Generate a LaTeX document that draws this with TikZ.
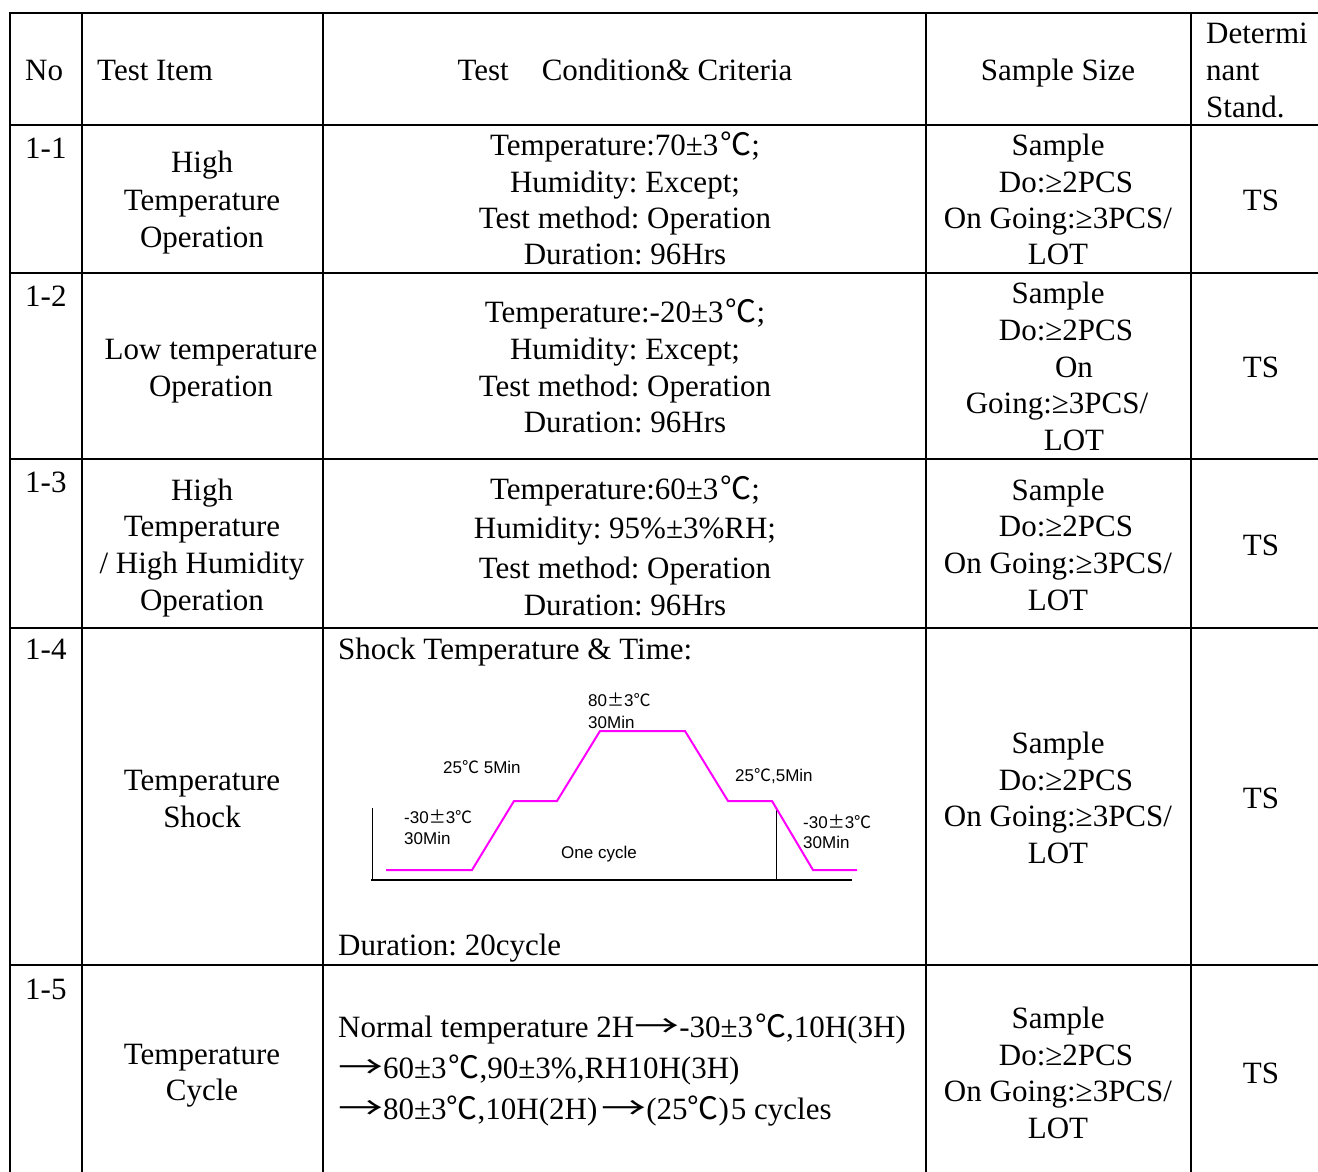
\documentclass[tikz,border=0pt]{standalone}
\usepackage{fontspec}
\usepackage{graphicx}
\setmainfont{Liberation Serif}
\newfontfamily\chartfont{Liberation Sans}
\newfontfamily\cjk{Noto Sans CJK SC}
\newcommand\dgc{{\cjk ℃}}
\newcommand\tdgc{\hspace{2pt}{\cjk ℃}}
\newcommand\cpm{{\cjk ±}}
\newcommand\rar{\scalebox{1.45}[1]{\cjk →}}
\frenchspacing
\tikzset{
  tbl/.style={line width=2.5pt, line cap=rect},
  txt/.style={inner sep=0pt, font=\fontsize{31}{36.5}\selectfont, anchor=base},
  ltxt/.style={txt, anchor=base west},
  chl/.style={inner sep=0pt, font=\chartfont\fontsize{17}{21}\selectfont, anchor=base west},
  curve/.style={draw={rgb,255:red,255;green,0;blue,255}, line width=2pt, line join=miter},
  axis/.style={line width=2pt},
  thin/.style={line width=1pt}
}
\begin{document}
\begin{tikzpicture}[x=1pt,y=-1pt]
\useasboundingbox (0,0) rectangle (1318,1171);
% grid
\foreach \yy in {13,125,273,459,628,965} \draw[tbl] (10,\yy) -- (1320,\yy);
\foreach \xx in {10,82,323,926,1191} \draw[tbl] (\xx,13) -- (\xx,1173);
% header
\node[ltxt] (hno) at (25,80) {No};
\node[ltxt] (hitem) at (97,80) {Test Item};
\node[txt] (hcond) at (625,80) {Test\hspace{33pt}Condition\& Criteria};
\node[txt] (hsize) at (1058,80) {Sample Size};
\node[ltxt] (hd1) at (1206,43) {Determi};
\node[ltxt] (hd2) at (1206,80) {nant};
\node[ltxt] (hd3) at (1206,117) {Stand.};
% row 1-1
\node[ltxt] (n11) at (25,158) {1-1};
\node[txt] (i11a) at (202,172) {High};
\node[txt] (i11b) at (202,210) {Temperature};
\node[txt] (i11c) at (202,247) {Operation};
\node[txt] (c11a) at (625,155) {Temperature:70±3\tdgc;};
\node[txt] (c11b) at (625,192) {Humidity: Except;};
\node[txt] (c11c) at (625,228) {Test method: Operation};
\node[txt] (c11d) at (625,264) {Duration: 96Hrs};
\node[txt] (s11a) at (1058,155) {Sample};
\node[txt] (s11b) at (1066,192) {Do:≥2PCS};
\node[txt] (s11c) at (1058,228) {On Going:≥3PCS/};
\node[txt] (s11d) at (1058,264) {LOT};
\node[txt] (t11) at (1261,210) {TS};
% row 1-2
\node[ltxt] (n12) at (25,306) {1-2};
\node[txt] (i12a) at (211,359) {Low temperature};
\node[txt] (i12b) at (211,396) {Operation};
\node[txt] (c12a) at (625,322) {Temperature:-20±3\tdgc;};
\node[txt] (c12b) at (625,359) {Humidity: Except;};
\node[txt] (c12c) at (625,396) {Test method: Operation};
\node[txt] (c12d) at (625,432) {Duration: 96Hrs};
\node[txt] (s12a) at (1058,303) {Sample};
\node[txt] (s12b) at (1066,340) {Do:≥2PCS};
\node[txt] (s12c) at (1074,377) {On};
\node[txt] (s12d) at (1057,413) {Going:≥3PCS/};
\node[txt] (s12e) at (1074,450) {LOT};
\node[txt] (t12) at (1261,377) {TS};
% row 1-3
\node[ltxt] (n13) at (25,492) {1-3};
\node[txt] (i13a) at (202,500) {High};
\node[txt] (i13b) at (202,536) {Temperature};
\node[txt] (i13c) at (202,573) {/ High Humidity};
\node[txt] (i13d) at (202,610) {Operation};
\node[txt] (c13a) at (625,499) {Temperature:60±3\tdgc;};
\node[txt] (c13b) at (625,538) {Humidity: 95\%±3\%RH;};
\node[txt] (c13c) at (625,578) {Test method: Operation};
\node[txt] (c13d) at (625,615) {Duration: 96Hrs};
\node[txt] (s13a) at (1058,500) {Sample};
\node[txt] (s13b) at (1066,536) {Do:≥2PCS};
\node[txt] (s13c) at (1058,573) {On Going:≥3PCS/};
\node[txt] (s13d) at (1058,610) {LOT};
\node[txt] (t13) at (1261,555) {TS};
% row 1-4
\node[ltxt] (n14) at (25,659) {1-4};
\node[txt] (i14a) at (202,790) {Temperature};
\node[txt] (i14b) at (202,827) {Shock};
\node[ltxt] (c14a) at (338,659) {Shock Temperature \& Time:};
\node[ltxt] (c14b) at (338,955) {Duration: 20cycle};
\node[txt] (s14a) at (1058,753) {Sample};
\node[txt] (s14b) at (1066,790) {Do:≥2PCS};
\node[txt] (s14c) at (1058,826) {On Going:≥3PCS/};
\node[txt] (s14d) at (1058,863) {LOT};
\node[txt] (t14) at (1261,808) {TS};
% chart
\draw[thin] (372,808) -- (372,880);
\draw[axis] (371,880) -- (852,880);
\draw[thin] (776,810) -- (776,880);
\draw[curve] (386,870) -- (472,870) -- (514,801) -- (557,801) -- (600,731) -- (685,731)
  -- (728,801) -- (772,801) -- (813,870) -- (857,870);
\node[chl] (l80) at (588,706) {80\cpm3\dgc};
\node[chl] (l80m) at (588,728) {30Min};
\node[chl] (l25a) at (443,773) {25\dgc\ 5Min};
\node[chl] (l25b) at (735,781) {25\dgc,5Min};
\node[chl] (lm30a) at (404,823) {-30\cpm3\dgc};
\node[chl] (lm30am) at (404,844) {30Min};
\node[chl] (lm30b) at (803,828) {-30\cpm3\dgc};
\node[chl] (lm30bm) at (803,848) {30Min};
\node[chl, anchor=base] (lone) at (599,858) {One cycle};
% row 1-5
\node[ltxt] (n15) at (25,999) {1-5};
\node[txt] (i15a) at (202,1064) {Temperature};
\node[txt] (i15b) at (202,1100) {Cycle};
\node[ltxt] (c15a) at (338,1037) {Normal temperature 2H\rar-30±3\tdgc,10H(3H)};
\node[ltxt] (c15b) at (338,1078) {\rar60±3\tdgc,90±3\%,RH10H(3H)};
\node[ltxt] (c15c) at (338,1119) {\rar80±3\dgc,10H(2H)\hspace{4pt}\rar(25\dgc)\hspace{2pt}5 cycles};
\node[txt] (s15a) at (1058,1028) {Sample};
\node[txt] (s15b) at (1066,1065) {Do:≥2PCS};
\node[txt] (s15c) at (1058,1101) {On Going:≥3PCS/};
\node[txt] (s15d) at (1058,1138) {LOT};
\node[txt] (t15) at (1261,1083) {TS};
\end{tikzpicture}
\end{document}
